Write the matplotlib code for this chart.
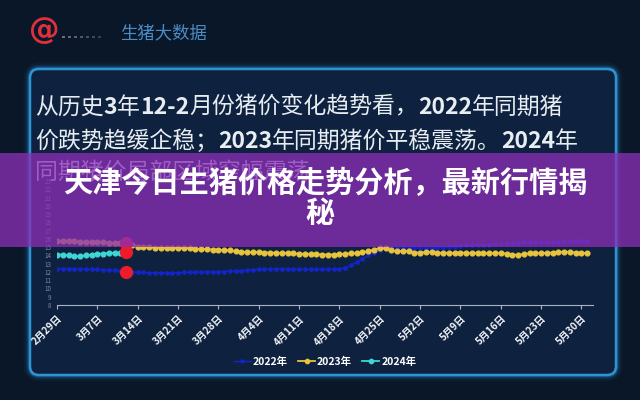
import numpy as np
import matplotlib
matplotlib.use('Agg')
import matplotlib.pyplot as plt
from matplotlib.patches import FancyBboxPatch, Rectangle

plt.rcParams['font.family'] = ['Noto Sans CJK SC', 'DejaVu Sans']

# daily prices, 2/29 .. 5/31
prices_2022 = [12.4, 12.4, 12.4, 12.35, 12.35, 12.3, 12.3, 12.3, 12.25, 12.2, 12.2, 12.15, 12.05,
               12.0, 11.95, 11.95, 11.9, 11.9, 11.9, 11.9, 11.9, 11.9, 11.95, 11.95, 11.95, 12.0, 12.0, 12.0, 12.0, 12.05, 12.1,
               12.1, 12.15, 12.2, 12.25, 12.3, 12.35, 12.35, 12.35, 12.35, 12.35, 12.35, 12.3, 12.3, 12.3, 12.3, 12.3, 12.3, 12.35, 12.4, 12.5,
               12.8, 13.2, 13.6, 14.0, 14.3, 14.6, 14.8, 14.9, 14.9, 14.9, 14.9, 14.9,
               14.9, 14.9, 14.9, 14.95, 14.95, 15.0, 15.0, 15.1, 15.2, 15.2,
               15.3, 15.3, 15.3, 15.35, 15.4, 15.4, 15.45, 15.5,
               15.6, 15.6, 15.6, 15.6, 15.65, 15.65, 15.65, 15.7, 15.7, 15.7, 15.7, 15.7]
prices_2023 = [15.7, 15.75, 15.7, 15.7, 15.65, 15.65, 15.6, 15.6, 15.6, 15.55, 15.5, 15.5, 15.45,
               15.2, 15.05, 15.0, 15.0, 14.95, 14.95, 14.9, 14.9, 14.9, 14.85, 14.85, 14.8, 14.8, 14.75, 14.7, 14.7, 14.65, 14.6,
               14.5, 14.45, 14.4, 14.4, 14.4, 14.35, 14.35, 14.3, 14.3, 14.3, 14.25, 14.2, 14.2, 14.15, 14.15, 14.1, 14.1, 14.1, 14.15, 14.2,
               14.25, 14.3, 14.4, 14.5, 14.7, 14.9, 14.85, 14.6, 14.5, 14.55, 14.5, 14.35,
               14.35, 14.4, 14.45, 14.35, 14.3, 14.3, 14.3, 14.35, 14.3, 14.3,
               14.3, 14.3, 14.25, 14.3, 14.3, 14.2, 14.1, 14.05,
               14.15, 14.25, 14.3, 14.3, 14.3, 14.35, 14.4, 14.45, 14.4, 14.35, 14.3, 14.3]
prices_2024 = [14.1, 14.1, 14.0, 13.9, 13.9, 14.0, 14.1, 14.2, 14.2, 14.3, 14.3, 14.3, 14.4]
today = 12  # 3/12, red dots

tick_labels = ['2月29日', '3月7日', '3月14日', '3月21日', '3月28日', '4月4日', '4月11日',
               '4月18日', '4月25日', '5月2日', '5月9日', '5月16日', '5月23日', '5月30日']
y_ticks = list(range(8, 24))

fig = plt.figure(figsize=(6.4, 4), dpi=100)
fig.patch.set_facecolor('#0a1729')

# pixel-coordinate background layer
bg = fig.add_axes([0, 0, 1, 1], zorder=0)
bg.set_xlim(0, 640)
bg.set_ylim(400, 0)
bg.axis('off')

# glowing frame
for lw, a in [(9, 0.06), (6, 0.12), (3.5, 0.3)]:
    bg.add_patch(FancyBboxPatch((30, 69), 586, 306, boxstyle='round,pad=0,rounding_size=9',
                                fc='none', ec='#2a9be0', lw=lw, alpha=a))
bg.add_patch(FancyBboxPatch((30, 69), 586, 306, boxstyle='round,pad=0,rounding_size=9',
                            fc='#0e2240', ec='#2f93d2', lw=1.8))

# logo
bg.text(44, 31, '@', fontsize=22, color='#e0303c', weight='bold', ha='center', va='center',
        family='DejaVu Sans')
for i, xx in enumerate(range(62, 104, 6)):
    bg.add_patch(Rectangle((xx, 36), 3, 2, fc='#f4d0d6', alpha=0.45 - i * 0.04, lw=0))
bg.text(120, 33, '生猪大数据', fontsize=12.5, color='#4a8cc6', va='center')

# paragraph with bold digits
fig.canvas.draw()
renderer = fig.canvas.get_renderer()


def runs(x, y, parts, size=16.5):
    for s, b in parts:
        t = bg.text(x, y, s, fontsize=size, color='#e8edf2', va='center',
                    weight='bold' if b else 'normal')
        x += t.get_window_extent(renderer).width


runs(35, 107, [('从历史', 0), ('3', 1), ('年', 0), ('12-2', 1), ('月份猪价变化趋势看，', 0),
               ('2022', 1), ('年同期猪', 0)])
runs(35, 141, [('价跌势趋缓企稳；', 0), ('2023', 1), ('年同期猪价平稳震荡。', 0),
               ('2024', 1), ('年', 0)])
runs(35, 172, [('同期猪价局部区域窄幅震荡', 0)])

# chart
ax = fig.add_axes([57 / 640, 95 / 400, 536 / 640, 124 / 400], zorder=2)
ax.set_facecolor('none')
days = np.arange(len(prices_2022))
ax.plot(days, prices_2022, color='#1424cc', lw=1.0, marker='o', ms=2.3, label='2022年')
ax.plot(days, prices_2023, color='#e8c33c', lw=1.3, marker='o', ms=3.4, label='2023年')
ax.plot(np.arange(len(prices_2024)), prices_2024, color='#3fd6d6', lw=1.3, marker='o', ms=3.4,
        label='2024年')
for series in (prices_2022, prices_2023, prices_2024):
    ax.plot(today, series[today], 'o', color='#ee1c2a', ms=8.5, zorder=5)

ax.set_xlim(0, 93)
ax.set_ylim(8, 23)
ax.set_yticks(y_ticks)
ax.set_yticklabels([str(v) for v in y_ticks], fontsize=4.5, color='#7d8a9a')
ax.set_xticks(range(0, 92, 7))
ax.set_xticklabels(tick_labels, rotation=45, ha='right', rotation_mode='anchor',
                   fontsize=7.2, weight='bold', color='#f2f4f7')
for side in ('left', 'right', 'top'):
    ax.spines[side].set_visible(False)
ax.spines['bottom'].set_color('#aab4c4')
ax.tick_params(axis='x', colors='#aab4c4', length=3, labelcolor='#f2f4f7', pad=3)
ax.tick_params(axis='y', length=0, pad=4)

leg = fig.legend(*ax.get_legend_handles_labels(), loc='center', bbox_to_anchor=(0.508, 1 - 362 / 400),
                 ncol=3, frameon=False, fontsize=7.5, handlelength=1.6, handletextpad=0.2,
                 columnspacing=1.0, markerscale=0.9)
for t in leg.get_texts():
    t.set_color('#ffffff')
    t.set_weight('bold')

# purple title banner over everything
top = fig.add_axes([0, 0, 1, 1], zorder=10)
top.set_xlim(0, 640)
top.set_ylim(400, 0)
top.axis('off')
top.patch.set_alpha(0)
top.add_patch(Rectangle((0, 153), 640, 94, fc='#8a2fb6', alpha=0.76, lw=0))
top.text(325, 183, '天津今日生猪价格走势分析，最新行情揭', fontsize=21, weight='heavy',
         color='white', ha='center', va='center')
top.text(320, 213, '秘', fontsize=21, weight='heavy', color='white', ha='center', va='center')

fig.savefig('out.png', dpi=100, facecolor=fig.get_facecolor())
